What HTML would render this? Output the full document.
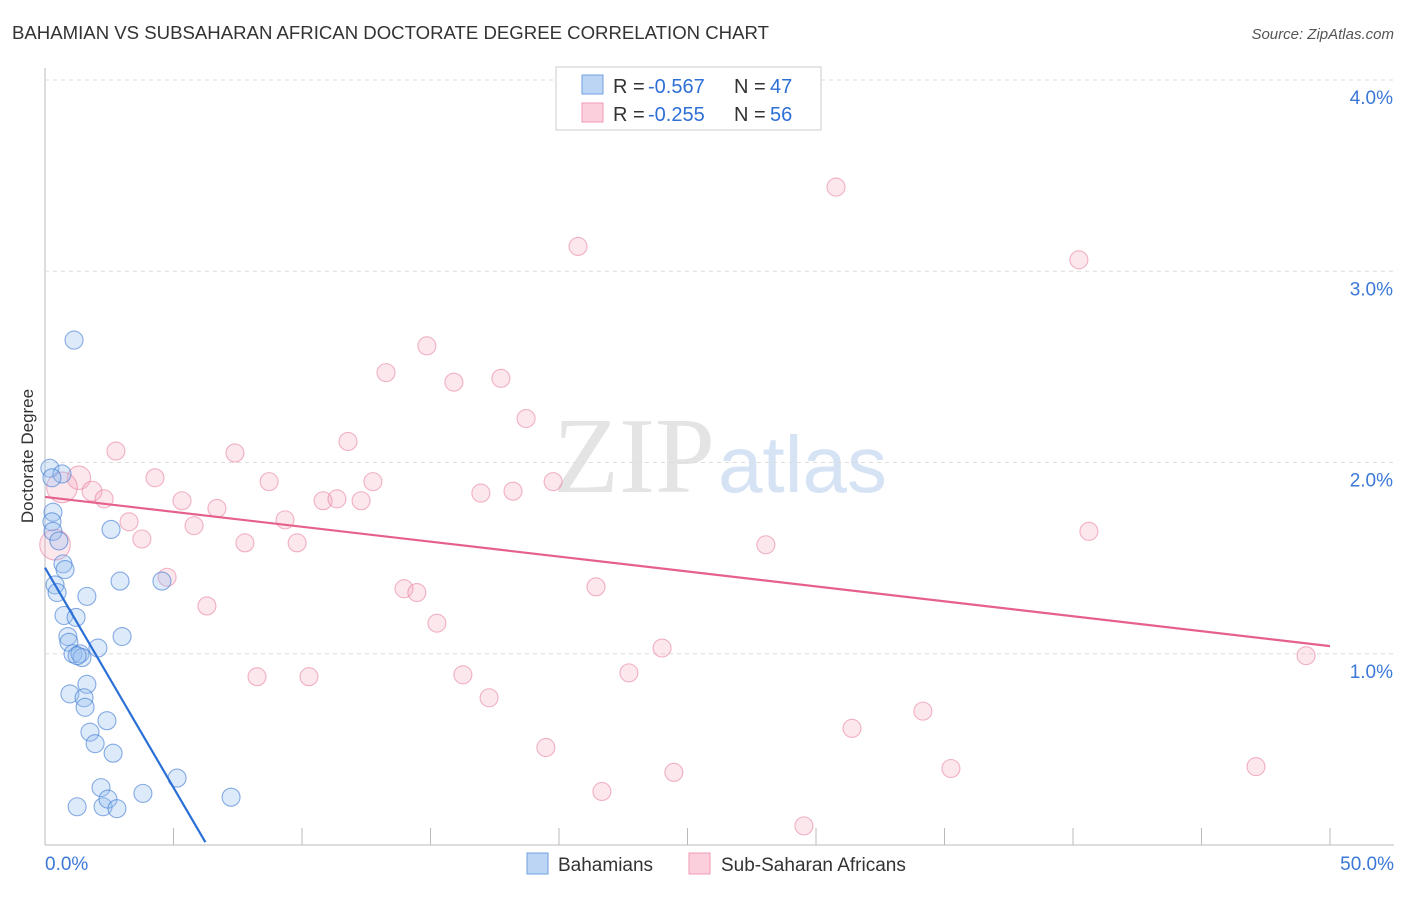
<!DOCTYPE html>
<html><head><meta charset="utf-8"><style>
body{margin:0;background:#fff;font-family:"Liberation Sans",sans-serif}
</style></head><body>
<svg width="1406" height="892" xmlns="http://www.w3.org/2000/svg" id="c">
<text x="12" y="39" font-size="18.6" fill="#333">BAHAMIAN VS SUBSAHARAN AFRICAN DOCTORATE DEGREE CORRELATION CHART</text>
<text x="1394" y="39" font-size="15" fill="#555" font-style="italic" text-anchor="end">Source: ZipAtlas.com</text>
<text x="715" y="492" font-size="108" fill="#e4e4e4" text-anchor="end" font-family="Liberation Serif">ZIP</text>
<text x="718" y="492" font-size="80" fill="#d5e3f5">atlas</text>
<text transform="translate(33,456) rotate(-90)" font-size="17" fill="#333" text-anchor="middle">Doctorate Degree</text>
<g id="grid"></g><g id="pts"></g><g id="lines"></g>
<g>
<rect x="556" y="67" width="265" height="63" fill="#fff" stroke="#ccc"/>
<rect x="582" y="75" width="21" height="19" fill="#bcd5f5" stroke="#6fa1e0"/>
<rect x="582" y="103" width="21" height="19" fill="#fbd0dc" stroke="#f09ab3"/>
<text x="613" y="93" font-size="20" fill="#333">R =</text><text x="648" y="93" font-size="20" fill="#2e6fd6">-0.567</text>
<text x="734" y="93" font-size="20" fill="#333">N =</text><text x="770" y="93" font-size="20" fill="#2e6fd6">47</text>
<text x="613" y="121" font-size="20" fill="#333">R =</text><text x="648" y="121" font-size="20" fill="#2e6fd6">-0.255</text>
<text x="734" y="121" font-size="20" fill="#333">N =</text><text x="770" y="121" font-size="20" fill="#2e6fd6">56</text>
</g>
<g>
<rect x="527" y="853" width="21" height="21" fill="#bcd5f5" stroke="#6fa1e0"/>
<text x="558" y="871" font-size="19" fill="#333">Bahamians</text>
<rect x="689" y="853" width="21" height="21" fill="#fbd0dc" stroke="#f09ab3"/>
<text x="721" y="871" font-size="19" fill="#333">Sub-Saharan Africans</text>
</g>
</svg>
<script>
const xTicks=[0,5,10,15,20,25,30,35,40,45,50];
const yTicks=[1,2,3,4];
const yTickLabels=["1.0%","2.0%","3.0%","4.0%"];
const blueX=[0.19,0.66,0.27,0.31,0.27,0.31,0.54,2.57,1.13,0.70,0.78,2.92,4.55,0.39,0.47,1.63,0.74,1.21,0.89,3.00,0.93,1.09,1.36,1.44,2.06,1.25,1.63,0.97,1.52,1.56,2.41,1.75,1.95,2.65,5.14,2.18,3.81,7.24,1.25,2.26,2.45,2.80];
const blueY=[1.97,1.94,1.92,1.74,1.69,1.64,1.59,1.65,2.64,1.47,1.44,1.38,1.38,1.36,1.32,1.30,1.20,1.19,1.09,1.09,1.06,1.00,1.00,0.98,1.03,0.99,0.84,0.79,0.77,0.72,0.65,0.59,0.53,0.48,0.35,0.30,0.27,0.25,0.20,0.20,0.24,0.19];
const pinkX=[30.78,20.74,40.23,14.86,13.27,15.91,17.74,18.72,11.79,2.76,7.39,4.28,1.32,8.72,12.76,19.77,16.96,18.21,0.66,1.83,2.30,5.33,10.82,11.36,12.30,6.69,9.34,3.27,5.80,40.62,3.77,7.78,9.81,28.05,0.39,4.75,13.97,14.47,21.44,6.30,15.25,24.01,49.07,22.72,16.26,8.25,10.27,17.28,34.16,31.40,19.49,35.25,47.12,24.47,21.67,29.53];
const pinkY=[3.44,3.13,3.06,2.61,2.47,2.42,2.44,2.23,2.11,2.06,2.05,1.92,1.92,1.90,1.90,1.90,1.84,1.85,1.87,1.85,1.81,1.80,1.80,1.81,1.80,1.76,1.70,1.69,1.67,1.64,1.60,1.58,1.58,1.57,1.57,1.40,1.34,1.32,1.35,1.25,1.16,1.03,0.99,0.90,0.89,0.88,0.88,0.77,0.70,0.61,0.51,0.40,0.41,0.38,0.28,0.10];
const pinkW=[1,1,1,1,1,1,1,1,1,1,1,1,1.3,1,1,1,1,1,1.7,1.1,1,1,1,1,1,1,1,1,1,1,1,1,1,1,1.7,1,1,1,1,1,1,1,1,1,1,1,1,1,1,1,1,1,1,1,1,1];
const blueTrend=[1.45,-0.23];
const pinkTrend=[1.82,-0.0156];
const NS='http://www.w3.org/2000/svg';
const X=v=>45+v*25.7, Y=v=>845-v*191.25;
function mk(p,t,a){const e=document.createElementNS(NS,t);for(const k in a)e.setAttribute(k,a[k]);p.appendChild(e);return e;}
const g=document.getElementById('grid');
mk(g,'line',{x1:45,y1:68,x2:45,y2:845,stroke:'#bbb'});
mk(g,'line',{x1:45,y1:845,x2:1394,y2:845,stroke:'#bbb'});
yTicks.forEach((t,i)=>{
 const l=mk(g,'line',{x1:45,y1:Y(t),x2:1394,y2:Y(t),stroke:'#ddd','stroke-dasharray':'4,4'});
 
 
 const tx=mk(g,'text',{x:1393,y:Y(t)+24,'font-size':19,fill:'#3b78d8','text-anchor':'end'});
 tx.textContent=yTickLabels[i];
 
 
});
xTicks.forEach(t=>{
 const l=mk(g,'line',{x1:X(t),y1:828,x2:X(t),y2:845,stroke:'#bbb'});
 
 
});
[[0,'0.0%','start',45],[50,'50.0%','end',1394]].forEach(d=>{
 const tx=mk(g,'text',{x:d[3],y:870,'font-size':19,fill:'#3b78d8','text-anchor':d[2]});
 tx.textContent=d[1];
 
 
});
const pg=document.getElementById('pts');
pinkX.forEach((v,i)=>{
 const c=mk(pg,'circle',{cx:X(v),cy:Y(pinkY[i]),r:9*pinkW[i],fill:'rgba(246,170,192,0.28)',stroke:'rgba(232,130,160,0.6)','stroke-width':1.1});
 
 
});
blueX.forEach((v,i)=>{
 const c=mk(pg,'circle',{cx:X(v),cy:Y(blueY[i]),r:9,fill:'rgba(150,190,240,0.32)',stroke:'rgba(60,120,210,0.6)','stroke-width':1.1});
 
 
});
const lg=document.getElementById('lines');
const bx2=-blueTrend[0]/blueTrend[1]*0.99;
const bl=mk(lg,'line',{x1:X(0),y1:Y(blueTrend[0]),x2:X(bx2),y2:Y(blueTrend[0]+blueTrend[1]*bx2),stroke:'#2a6fd6','stroke-width':2.2});


const pl=mk(lg,'line',{x1:X(0),y1:Y(pinkTrend[0]),x2:X(50),y2:Y(pinkTrend[0]+pinkTrend[1]*50),stroke:'#e5608c','stroke-width':2.2});


</script>
</body></html>
